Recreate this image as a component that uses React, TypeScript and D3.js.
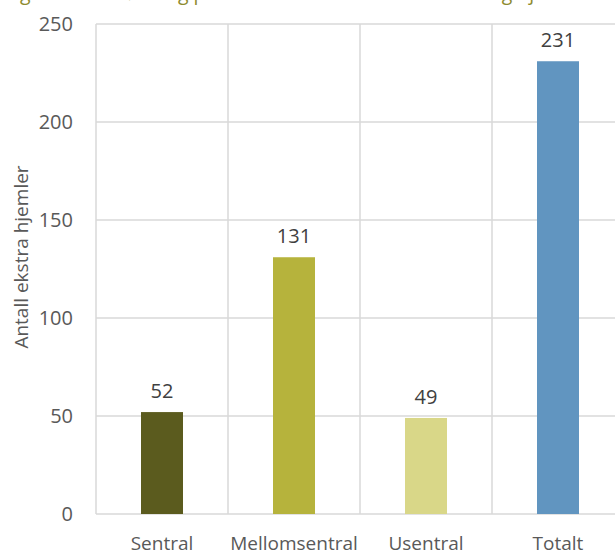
import React from "react";
import * as d3 from "d3";

const categories = ["Sentral", "Mellomsentral", "Usentral", "Totalt"];
const values = [52, 131, 49, 231];
const colors = ["#5B5B1E", "#B6B33C", "#D9D788", "#6195C0"];
const yTicks = [0, 50, 100, 150, 200, 250];
const yTitle = "Antall ekstra hjemler";
const titleStart = "Figur 6: Total økning per sentralitetsklasse samlet";
const titleEnd = "og hjemler";

const W = 615;
const H = 552;
const margin = { left: 96, top: 24, right: -9, bottom: 38 };
const font = "'Open Sans', sans-serif";
const textColor = "#595959";
const gridColor = "#D9D9D9";

export default function App() {
  const x = d3
    .scaleBand<string>()
    .domain(categories)
    .range([margin.left, W - margin.right])
    .paddingInner(0)
    .paddingOuter(0);
  const y = d3.scaleLinear().domain([0, 250]).range([H - margin.bottom, margin.top]);
  const barW = 42;
  const edges = [...categories.map((c) => x(c)!), x(categories[categories.length - 1])! + x.bandwidth()];

  return (
    <svg
      width={W}
      height={H}
      style={{ position: "absolute", left: 0, top: 0, background: "#fff" }}
      fontFamily={font}
    >
      {/* figure caption, running off the top edge */}
      <text y={-0.5} fontSize={19.5} fill="#8E8B2F">
        <tspan x={5}>{titleStart}</tspan>
        <tspan x={490}>{titleEnd}</tspan>
      </text>
      {/* horizontal gridlines */}
      {yTicks.map((t) => (
        <line
          key={"h" + t}
          x1={margin.left}
          x2={W - margin.right}
          y1={y(t)}
          y2={y(t)}
          stroke={gridColor}
          strokeWidth={1.5}
        />
      ))}
      {/* vertical gridlines between categories */}
      {edges.map((e, i) => (
        <line key={"v" + i} x1={e} x2={e} y1={margin.top} y2={y(0)} stroke={gridColor} strokeWidth={1.5} />
      ))}
      {/* y tick labels */}
      {yTicks.map((t) => (
        <text
          key={"t" + t}
          x={73}
          y={y(t)}
          dy="0.36em"
          textAnchor="end"
          fontSize={20}
          fill={textColor}
        >
          {t}
        </text>
      ))}
      <text
        transform={`translate(28, ${257}) rotate(-90)`}
        textAnchor="middle"
        fontSize={19}
        fill={textColor}
      >
        {yTitle}
      </text>
      {/* bars and value labels */}
      {categories.map((c, i) => {
        const cx = x(c)! + x.bandwidth() / 2;
        return (
          <g key={c}>
            <rect x={cx - barW / 2} y={y(values[i])} width={barW} height={y(0) - y(values[i])} fill={colors[i]} />
            <text x={cx} y={y(values[i]) - 14} textAnchor="middle" fontSize={20} fill="#404040">
              {values[i]}
            </text>
            <text x={cx} y={550} textAnchor="middle" fontSize={19} fill={textColor}>
              {c}
            </text>
          </g>
        );
      })}
    </svg>
  );
}
